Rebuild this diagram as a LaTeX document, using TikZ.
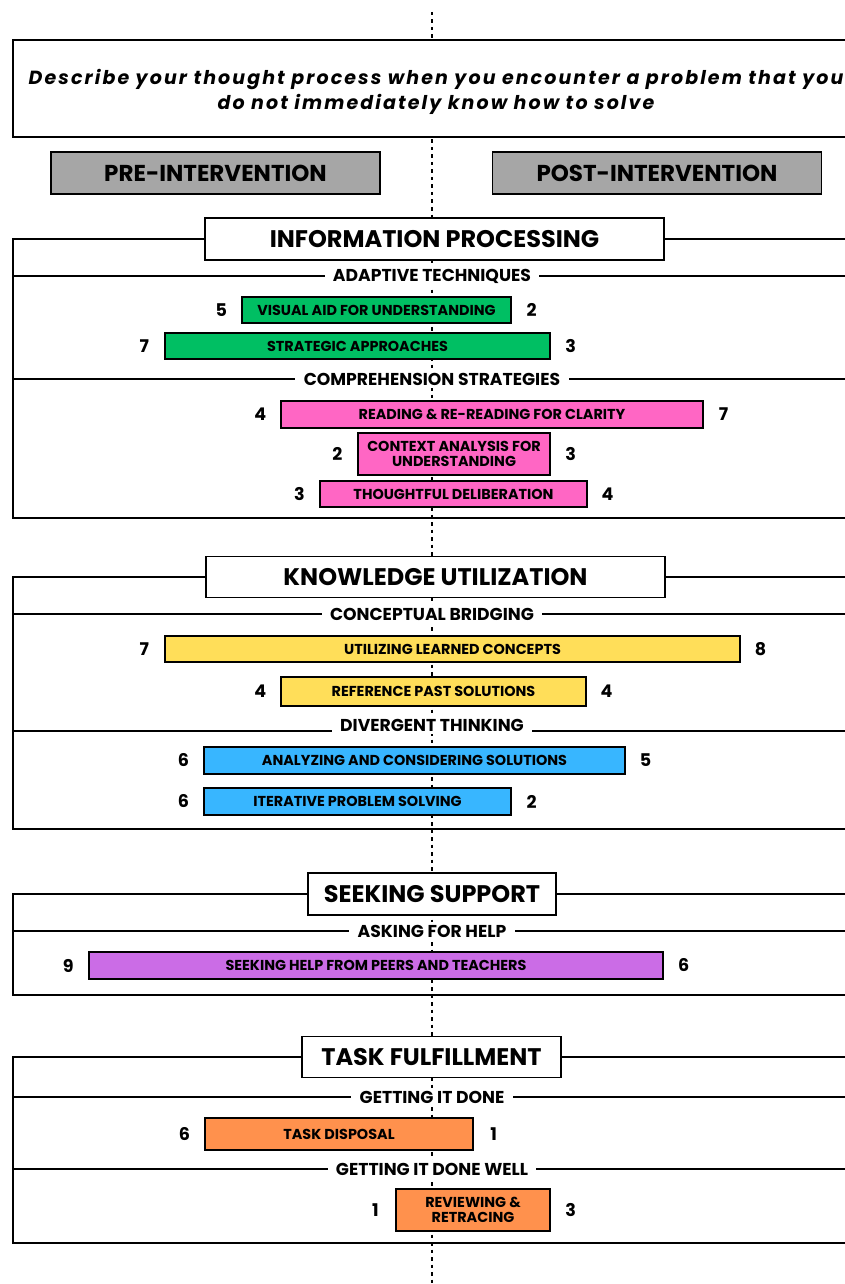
\documentclass[tikz,border=0pt]{standalone}
\usepackage{fontspec}
\setmainfont{Poppins}
\newfontfamily\qfont[LetterSpace=11]{Poppins}
\usetikzlibrary{calc}

\definecolor{phgray}{HTML}{A6A6A6}
\definecolor{cgreen}{HTML}{00BF63}
\definecolor{cpink}{HTML}{FF66C4}
\definecolor{cyellow}{HTML}{FFDE59}
\definecolor{cblue}{HTML}{38B6FF}
\definecolor{cpurple}{HTML}{CB6CE6}
\definecolor{corange}{HTML}{FF914D}

\tikzset{
  frameline/.style={line width=1.6pt, line cap=rect},
  dotline/.style={line width=2.4pt, dash pattern=on 3.5pt off 4pt},
  headbox/.style={draw, line width=1.8pt, fill=white, inner sep=0pt,
    font=\bfseries\fontsize{24}{26}\selectfont},
  phasebox/.style={draw, line width=1.6pt, fill=phgray, inner sep=0pt,
    minimum width=329pt, minimum height=42pt,
    font=\bfseries\fontsize{23}{24}\selectfont},
  subhead/.style={fill=white, inner xsep=9pt, inner ysep=3pt,
    font=\bfseries\fontsize{17.2}{18}\selectfont},
  barbox/.style={draw, line width=1.3pt, inner sep=0pt, align=center,
    font=\bfseries\fontsize{14.4}{15.5}\selectfont},
  num/.style={font=\bfseries\fontsize{17.5}{18}\selectfont},
}

% bar: name, x-left, x-right, y-top, y-bottom, colour, label, pre count, post count
\newcommand\databar[9]{%
  \node[barbox, fill=#6, minimum width={#3-#2}, minimum height={#5-#4}]
    (#1) at ({(#2+#3)/2},{(#4+#5)/2}) {#7};
  \node[num] (#1-pre) at ([xshift=-20pt]#1.west) {#8};
  \node[num] (#1-post) at ([xshift=20pt]#1.east) {#9};
}

% sub-heading rule: name, rule y, text y, text
\newcommand\subrule[4]{%
  \coordinate (#1-l) at (13,#2);
  \coordinate (#1-r) at (875,#2);
  \node[subhead] (#1) at (432,#3) {#4};
  \draw[frameline] (#1-l) -- (#1.west |- #1-l);
  \draw[frameline] (#1.east |- #1-r) -- (#1-r);
}

% category frame: title node, bottom y
\newcommand\catframe[2]{%
  \coordinate (#1-bl) at (13,#2);
  \coordinate (#1-br) at (875,#2);
  \draw[frameline] (#1.west) -| (#1-bl) -- (#1-br);
  \draw[frameline] (#1.east) -- (#1.east -| #1-br);
}

\begin{document}
\begin{tikzpicture}[x=1pt, y=-1pt]
\useasboundingbox (0,0) rectangle (845,1284);

% central dotted spine
\coordinate (spine-top) at (432,12);
\coordinate (spine-bot) at (432,1290);
\draw[dotline] (spine-top) -- (spine-bot);

% question
\draw[line width=1.6pt, fill=white] (13,40) rectangle (880,137);
\node[align=center, font=\qfont\bfseries\itshape\fontsize{19}{25}\selectfont]
  (question) at (436,92)
  {Describe your thought process when you encounter a problem that you\\
   do not immediately know how to solve};

\node[phasebox] (pre) at (215.5,173) {PRE-INTERVENTION};
\node[phasebox] (post) at (657,173) {POST-INTERVENTION};

% ---------------- Information processing
\node[headbox, minimum width=459pt, minimum height=42pt] (ip) at (434.5,239) {INFORMATION PROCESSING};
\catframe{ip}{518}
\subrule{adapt}{276}{276}{ADAPTIVE TECHNIQUES}
\databar{visual}{242}{511}{297}{323}{cgreen}{VISUAL AID FOR UNDERSTANDING}{5}{2}
\databar{strat}{165}{550}{333}{359}{cgreen}{STRATEGIC APPROACHES}{7}{3}
\subrule{compr}{379}{379}{COMPREHENSION STRATEGIES}
\databar{read}{281}{703}{401}{428}{cpink}{READING \& RE-READING FOR CLARITY}{4}{7}
\databar{context}{358}{550}{433}{475}{cpink}{CONTEXT ANALYSIS FOR\\UNDERSTANDING}{2}{3}
\databar{delib}{320}{587}{481}{507}{cpink}{THOUGHTFUL DELIBERATION}{3}{4}

% ---------------- Knowledge utilization
\node[headbox, minimum width=459pt, minimum height=41pt] (ku) at (435.5,577) {KNOWLEDGE UTILIZATION};
\catframe{ku}{829}
\subrule{bridge}{614}{614}{CONCEPTUAL BRIDGING}
\databar{learned}{165}{740}{636}{662}{cyellow}{UTILIZING LEARNED CONCEPTS}{7}{8}
\databar{past}{281}{586}{677}{706}{cyellow}{REFERENCE PAST SOLUTIONS}{4}{4}
\subrule{diverg}{731}{725}{DIVERGENT THINKING}
\databar{analyze}{204}{625}{747}{774}{cblue}{ANALYZING AND CONSIDERING SOLUTIONS}{6}{5}
\databar{iter}{204}{511}{788}{815}{cblue}{ITERATIVE PROBLEM SOLVING}{6}{2}

% ---------------- Seeking support
\node[headbox, minimum width=248pt, minimum height=42pt] (ss) at (432,894) {SEEKING SUPPORT};
\catframe{ss}{995}
\subrule{askhelp}{931}{931}{ASKING FOR HELP}
\databar{peers}{89}{663}{952}{979}{cpurple}{SEEKING HELP FROM PEERS AND TEACHERS}{9}{6}

% ---------------- Task fulfillment
\node[headbox, minimum width=259pt, minimum height=41pt] (tf) at (431.5,1057) {TASK FULFILLMENT};
\catframe{tf}{1243}
\subrule{done}{1097}{1097}{GETTING IT DONE}
\databar{dispose}{205}{473}{1118}{1150}{corange}{TASK DISPOSAL}{6}{1}
\subrule{donewell}{1169}{1169}{GETTING IT DONE WELL}
\databar{review}{396}{550}{1189}{1231}{corange}{REVIEWING \&\\RETRACING}{1}{3}

\end{tikzpicture}
\end{document}
